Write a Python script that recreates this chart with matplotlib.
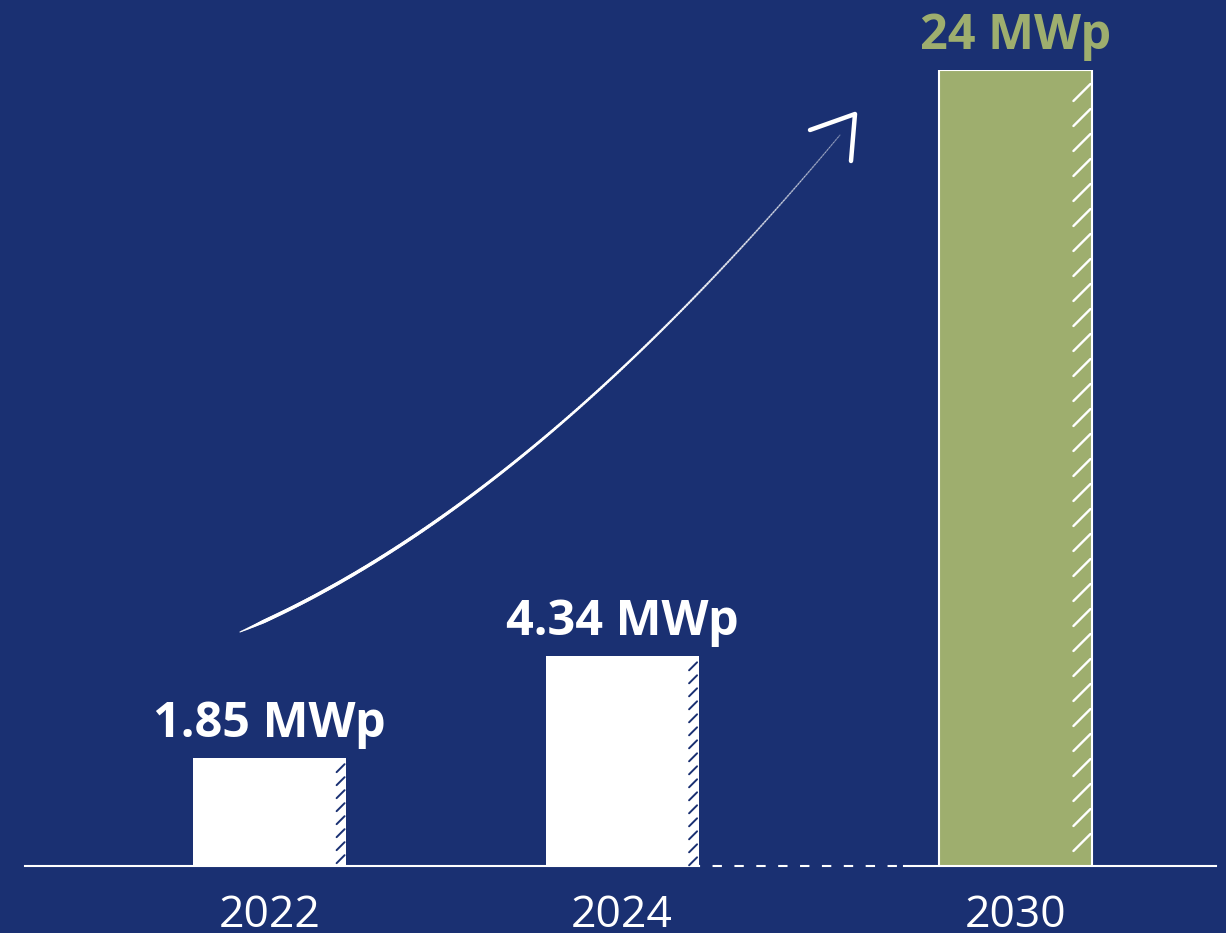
import numpy as np
import matplotlib.pyplot as plt
from matplotlib.collections import LineCollection

# capacity data
years = ['2022', '2024', '2030']
capacity_mwp = [1.85, 4.34, 24]
value_labels = ['1.85 MWp', '4.34 MWp', '24 MWp']

NAVY = '#1a3072'
GREEN = '#9eae6e'
WHITE = '#ffffff'

W, H = 1226, 933
fig = plt.figure(figsize=(W / 100, H / 100), dpi=100)
fig.patch.set_facecolor(NAVY)

ax = fig.add_axes([25 / W, 67 / H, 1191 / W, 796 / H])
ax.set_facecolor('none')

# compressed power scale so the small bars stay readable next to 2030
POW = 0.78


def fwd(v):
    v = np.asarray(v, dtype=float)
    return np.sign(v) * np.abs(v) ** POW


def inv(v):
    v = np.asarray(v, dtype=float)
    return np.sign(v) * np.abs(v) ** (1 / POW)


ax.set_yscale('function', functions=(fwd, inv))
ax.set_ylim(0, 24)

xpos = [0, 1, 2.116]
bw = 0.434
ax.set_xlim(-0.694, 2.685)

bar_colors = [WHITE, WHITE, GREEN]
label_colors = [WHITE, WHITE, GREEN]
bars = ax.bar(xpos, capacity_mwp, width=bw, color=bar_colors,
              edgecolor=WHITE, linewidth=[0, 0, 1.5], zorder=3)

for b, lab, c in zip(bars, value_labels, label_colors):
    ax.annotate(lab, (b.get_x() + b.get_width() / 2, b.get_height()),
                xytext=(0, 15), textcoords='offset points',
                ha='center', va='baseline', fontsize=35, fontweight='bold',
                color=c, family='Open Sans', annotation_clip=False)

# baseline: solid, dashed gap before 2030, then solid again
x0, x1 = ax.get_xlim()
right_2024 = xpos[1] + bw / 2
left_2030 = xpos[2] - bw / 2
ax.plot([x0, right_2024], [0, 0], color=WHITE, lw=1.5, zorder=2, clip_on=False)
ax.plot([right_2024, left_2030 - 0.1], [0, 0], color=WHITE, lw=1.5,
        ls=(4, (4.5, 6)), zorder=2, clip_on=False)
ax.plot([left_2030 - 0.1, x1], [0, 0], color=WHITE, lw=1.5, zorder=2, clip_on=False)

ax.set_xticks(xpos, years)
ax.tick_params(axis='x', length=0, pad=20, labelsize=32, labelcolor=WHITE)
for t in ax.get_xticklabels():
    t.set_family('Open Sans')
ax.set_yticks([])
for s in ax.spines.values():
    s.set_visible(False)

# overlay in pixel coordinates for the decorations
ov = fig.add_axes([0, 0, 1, 1])
ov.set_xlim(0, W)
ov.set_ylim(H, 0)
ov.axis('off')
ov.patch.set_alpha(0)

to_ov = ov.transData.inverted()

# short diagonal strokes along the right edge of each bar
hatch_style = [
    dict(color=NAVY, d=8, step=13, lw=1.4, start=6),
    dict(color=NAVY, d=8, step=13, lw=1.4, start=6),
    dict(color=WHITE, d=17, step=25, lw=1.7, start=14),
]
for b, hs in zip(bars, hatch_style):
    xr = b.get_x() + b.get_width()
    (px, ptop), = to_ov.transform(ax.transData.transform([(xr, b.get_height())]))
    (_, pbot), = to_ov.transform(ax.transData.transform([(xr, 0)]))
    px -= 1.5
    for y in np.arange(ptop + hs['d'] + hs['start'], pbot, hs['step']):
        ov.plot([px - hs['d'], px], [y, y - hs['d']], color=hs['color'],
                lw=hs['lw'], solid_capstyle='round')

# hand-drawn growth arrow
P0 = np.array([240, 632])
P1 = np.array([528, 509])
P2 = np.array([840, 135])
t = np.linspace(0, 1, 300)[:, None]
pts = (1 - t) ** 2 * P0 + 2 * (1 - t) * t * P1 + t ** 2 * P2
segs = np.stack([pts[:-1], pts[1:]], axis=1)
tm = np.linspace(0, 1, len(segs))
widths = np.interp(tm, [0, 0.04, 0.3, 0.7, 1], [0.8, 2.6, 2.4, 1.6, 0.8])
alphas = np.interp(tm, [0, 0.65, 0.88, 1], [1, 1, 0.6, 0.35])
cols = np.ones((len(segs), 4))
cols[:, 3] = alphas
ov.add_collection(LineCollection(segs, colors=cols, linewidths=widths,
                                 capstyle='round'))
ov.plot([810, 855, 851], [130, 114, 161], color=WHITE, lw=3.2,
        solid_capstyle='round', solid_joinstyle='round')

fig.savefig('out.png', dpi=100, facecolor=NAVY)
